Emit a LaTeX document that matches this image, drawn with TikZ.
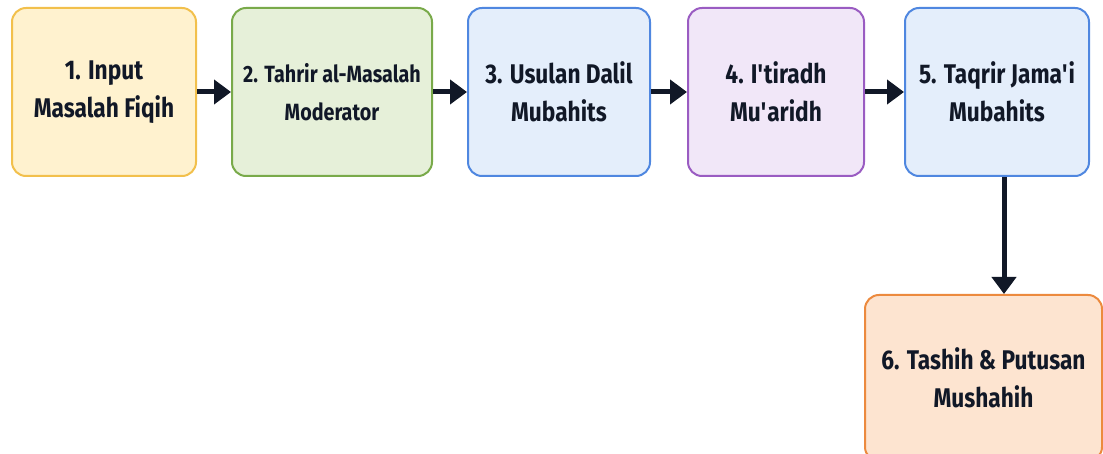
\documentclass[tikz,border=0pt]{standalone}
\usepackage{fontspec}
\setmainfont{Fira Sans}[FakeStretch=0.84]
\usetikzlibrary{arrows.meta}

\definecolor{yelfill}{HTML}{FFF2CF}
\definecolor{yeldraw}{HTML}{F2C04C}
\definecolor{grnfill}{HTML}{E6F0D9}
\definecolor{grndraw}{HTML}{79AA4A}
\definecolor{blufill}{HTML}{E4EEFB}
\definecolor{bludraw}{HTML}{4F87E0}
\definecolor{purfill}{HTML}{F1E7F8}
\definecolor{purdraw}{HTML}{9A5CC2}
\definecolor{orgfill}{HTML}{FDE4D0}
\definecolor{orgdraw}{HTML}{EC8A3E}
\definecolor{arrowink}{HTML}{111827}

\tikzset{
  stage/.style={draw=#1draw, fill=#1fill, line width=2pt, rounded corners=14pt,
    minimum height=168pt, align=center, text=arrowink,
    font=\bfseries\fontsize{27}{38}\selectfont},
  flow/.style={draw=arrowink, line width=5pt,
    -{Triangle[length=17pt,width=24pt]}}
}

\begin{document}
\begin{tikzpicture}[x=1pt,y=-1pt]
    \useasboundingbox (0,0) rectangle (1103,454);

    \node[stage=yel, minimum width=184pt] (b1) at (104,92) {1. Input\\Masalah Fiqih};
    \node[stage=grn, minimum width=200pt, font=\bfseries\fontsize{23.5}{38}\selectfont] (b2) at (332,92) {2. Tahrir al-Masalah\\Moderator};
    \node[stage=blu, minimum width=182pt] (b3) at (559,92) {3. Usulan Dalil\\Mubahits};
    \node[stage=pur, minimum width=176pt] (b4) at (776,92) {4. I\textquotesingle tiradh\\Mu\textquotesingle aridh};
    \node[stage=blu, minimum width=184pt] (b5) at (997,92) {5. Taqrir Jama\textquotesingle i\\Mubahits};
    \node[stage=org, minimum width=237pt, minimum height=166pt] (b6) at (983.5,378) {6. Tashih \& Putusan\\Mushahih};

    \foreach \a/\b in {b1/b2,b2/b3,b3/b4,b4/b5} \draw[flow] (\a) -- (\b);
    \draw[flow] ([xshift=7pt]b5.south) -- ([xshift=7pt]b5.south |- b6.north);
\end{tikzpicture}
\end{document}
